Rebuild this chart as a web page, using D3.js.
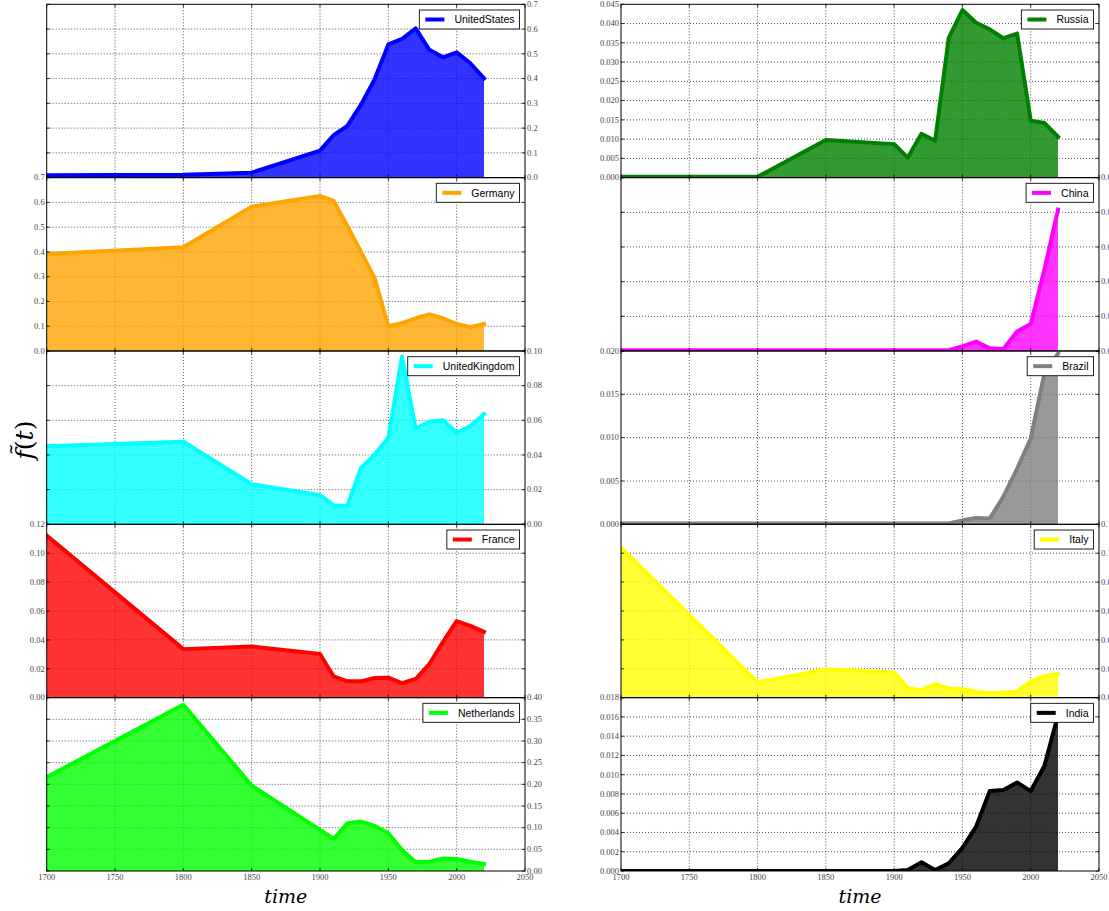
<!DOCTYPE html>
<html>
<head>
<meta charset="utf-8">
<script src="https://cdn.jsdelivr.net/npm/d3@7"></script>
<style>
  html, body { margin: 0; padding: 0; background: #fff; }
  svg { display: block; }
</style>
</head>
<body>
<svg id="chart" width="1109" height="911"></svg>
<script>
// ---------------- DATA ----------------
const years = [1700, 1800, 1850, 1900, 1910, 1920, 1930, 1940, 1950, 1960, 1970, 1980, 1990, 2000, 2010, 2020];

const unitedStates  = [0.010, 0.012, 0.020, 0.109, 0.172, 0.209, 0.295, 0.398, 0.538, 0.560, 0.603, 0.516, 0.486, 0.506, 0.462, 0.401];
const germany       = [0.392, 0.419, 0.583, 0.626, 0.606, 0.505, 0.400, 0.293, 0.101, 0.112, 0.132, 0.148, 0.132, 0.109, 0.096, 0.109];
const unitedKingdom = [0.0451, 0.0476, 0.0231, 0.0168, 0.0110, 0.0106, 0.0326, 0.0403, 0.0499, 0.0967, 0.0553, 0.0592, 0.0601, 0.0528, 0.0566, 0.0636];
const france        = [0.1122, 0.0336, 0.0355, 0.0302, 0.0147, 0.0113, 0.0113, 0.0136, 0.0138, 0.0101, 0.0129, 0.0233, 0.0387, 0.0530, 0.0497, 0.0456];
const netherlands   = [0.2166, 0.3838, 0.197, 0.095, 0.074, 0.110, 0.114, 0.104, 0.087, 0.0486, 0.020, 0.0216, 0.029, 0.0277, 0.0216, 0.016];
const russia        = [0.0002, 0.0002, 0.0098, 0.0087, 0.0052, 0.0114, 0.0096, 0.0363, 0.0435, 0.0402, 0.0385, 0.0362, 0.0374, 0.0148, 0.0142, 0.0106];
const china         = [0.0002, 0.0002, 0.0002, 0.0002, 0.0002, 0.0002, 0.0002, 0.0002, 0.0013, 0.0027, 0.0008, 0.0006, 0.0056, 0.0078, 0.0234, 0.0408];
const brazil        = [0.0001, 0.0001, 0.0001, 0.0001, 0.0001, 0.0001, 0.0001, 0.0001, 0.00046, 0.00073, 0.00066, 0.0032, 0.0064, 0.0099, 0.0174, 0.0197];
const italy         = [0.1039, 0.0106, 0.0196, 0.0175, 0.0064, 0.0053, 0.0092, 0.0064, 0.0058, 0.0041, 0.0030, 0.0035, 0.0041, 0.0113, 0.0150, 0.0164];
const india         = [0, 0, 0, 0, 0.0001, 0.0009, 0.0001, 0.0008, 0.0024, 0.0046, 0.0083, 0.0084, 0.0092, 0.0083, 0.0109, 0.0162];

const countryNames = ["UnitedStates", "Germany", "UnitedKingdom", "France", "Netherlands",
                      "Russia", "China", "Brazil", "Italy", "India"];
const seriesValues = [unitedStates, germany, unitedKingdom, france, netherlands,
                      russia, china, brazil, italy, india];
const yMax   = [0.7, 0.7, 0.10, 0.12, 0.40, 0.045, 0.05, 0.020, 0.12, 0.018];
const yStep  = [0.1, 0.1, 0.02, 0.02, 0.05, 0.005, 0.01, 0.005, 0.02, 0.002];
const yDecimals = [1, 1, 2, 2, 2, 3, 2, 3, 2, 3];
const xTickLabels = [1700, 1750, 1800, 1850, 1900, 1950, 2000, 2050];
const xDomain = [1700, 2050];

// ---------------- STYLE / LAYOUT ----------------
const colors = ["blue", "orange", "cyan", "red", "lime", "green", "magenta", "gray", "yellow", "black"];
const cols = [{x0: 46.7, x1: 525}, {x0: 621, x1: 1099}];
const plotTop = 4.3, plotBottom = 871;
const panelH = (plotBottom - plotTop) / 5;
const tickFont = "'Liberation Serif', 'DejaVu Serif', serif";

const svg = d3.select("#chart");
svg.append("rect").attr("width", 1109).attr("height", 911).attr("fill", "#fff");

countryNames.forEach((name, i) => {
  const colIdx = Math.floor(i / 5);
  const row = i % 5;
  const col = cols[colIdx];
  const top = plotTop + row * panelH;
  const bottom = top + panelH;
  // left column: rows 0,2,4 labelled on the right; right column: rows 1,3
  const rightSide = colIdx === 0 ? (row % 2 === 0) : (row % 2 === 1);

  const x = d3.scaleLinear().domain(xDomain).range([col.x0, col.x1]);
  const y = d3.scaleLinear().domain([0, yMax[i]]).range([bottom, top]);

  const g = svg.append("g");
  const clipId = "clip" + i;
  svg.append("defs").append("clipPath").attr("id", clipId)
    .append("rect").attr("x", col.x0).attr("y", top)
    .attr("width", col.x1 - col.x0).attr("height", panelH);

  const nT = Math.round(yMax[i] / yStep[i]);
  const yTicks = d3.range(nT + 1).map(k => +(k * yStep[i]).toFixed(6));
  const xTicks = xTickLabels;

  // grid
  const grid = g.append("g").attr("stroke", "#000").attr("stroke-width", 0.8)
    .attr("stroke-dasharray", "1,2").attr("opacity", 0.85);
  xTicks.filter(t => t > xDomain[0] && t < xDomain[1]).forEach(t => {
    grid.append("line").attr("x1", x(t)).attr("x2", x(t)).attr("y1", top).attr("y2", bottom);
  });
  yTicks.filter(t => t > 0 && t < yMax[i]).forEach(t => {
    grid.append("line").attr("x1", col.x0).attr("x2", col.x1).attr("y1", y(t)).attr("y2", y(t));
  });

  const data = years.map((yr, k) => ({yr, v: seriesValues[i][k]}));
  const area = d3.area().x(d => x(d.yr)).y0(y(0)).y1(d => y(d.v));
  const line = d3.line().x(d => x(d.yr)).y(d => y(d.v));

  const plot = g.append("g").attr("clip-path", `url(#${clipId})`);
  plot.append("path").datum(data).attr("d", area)
    .attr("fill", colors[i]).attr("fill-opacity", 0.8);
  plot.append("path").datum(data).attr("d", line)
    .attr("fill", "none").attr("stroke", colors[i]).attr("stroke-width", 4)
    .attr("stroke-linejoin", "round").attr("stroke-linecap", "square");

  // ticks (inward)
  const tk = g.append("g").attr("stroke", "#000").attr("stroke-width", 0.8);
  xTicks.forEach(t => {
    tk.append("line").attr("x1", x(t)).attr("x2", x(t)).attr("y1", bottom).attr("y2", bottom - 3);
    tk.append("line").attr("x1", x(t)).attr("x2", x(t)).attr("y1", top).attr("y2", top + 3);
  });
  yTicks.forEach(t => {
    tk.append("line").attr("x1", col.x0).attr("x2", col.x0 + 3).attr("y1", y(t)).attr("y2", y(t));
    tk.append("line").attr("x1", col.x1).attr("x2", col.x1 - 3).attr("y1", y(t)).attr("y2", y(t));
  });

  // frame
  g.append("rect").attr("x", col.x0).attr("y", top)
    .attr("width", col.x1 - col.x0).attr("height", panelH)
    .attr("fill", "none").attr("stroke", "#000").attr("stroke-width", 1);

  // y tick labels
  const fmt = d3.format("." + yDecimals[i] + "f");
  const yl = g.append("g").attr("font-family", tickFont).attr("font-size", 8.5).attr("fill", "#444");
  yTicks.forEach(t => {
    yl.append("text")
      .attr("x", rightSide ? col.x1 + 2 : col.x0 - 2)
      .attr("y", y(t)).attr("dy", "0.33em")
      .attr("text-anchor", rightSide ? "start" : "end")
      .text(fmt(t));
  });

  // x tick labels on bottom panels
  if (row === 4) {
    const xl = g.append("g").attr("font-family", tickFont).attr("font-size", 8.5).attr("fill", "#444");
    xTicks.forEach(t => {
      xl.append("text").attr("x", x(t)).attr("y", bottom + 3).attr("dy", "0.75em")
        .attr("text-anchor", "middle").text(t);
    });
    g.append("text").attr("x", (col.x0 + col.x1) / 2).attr("y", 903)
      .attr("text-anchor", "middle").attr("font-family", "'DejaVu Serif', serif")
      .attr("font-style", "italic").attr("font-size", 19).attr("fill", "#000").text("time");
  }

  // legend
  const lg = g.append("g");
  const txt = lg.append("text").attr("font-family", "'Liberation Sans', Arial, sans-serif")
    .attr("font-size", 10.5).attr("fill", "#000").text(name);
  const tw = txt.node().getComputedTextLength();
  const boxH = 19, boxRight = col.x1 - 5.5, boxTop = top + 5.7;
  const boxW = 6 + 19 + 10 + tw + 5;
  const bx = boxRight - boxW;
  lg.insert("rect", "text").attr("x", bx).attr("y", boxTop).attr("width", boxW).attr("height", boxH)
    .attr("fill", "#fff").attr("stroke", "#222").attr("stroke-width", 1);
  lg.append("line").attr("x1", bx + 6).attr("x2", bx + 25)
    .attr("y1", boxTop + boxH / 2).attr("y2", boxTop + boxH / 2)
    .attr("stroke", colors[i]).attr("stroke-width", 4);
  txt.attr("x", bx + 35).attr("y", boxTop + boxH / 2).attr("dy", "0.35em");
});

// y axis label  f̃(t)
const ylab = svg.append("text")
  .attr("transform", "translate(33,440) rotate(-90)")
  .attr("text-anchor", "middle")
  .attr("font-family", "'DejaVu Serif', serif").attr("font-size", 25).attr("fill", "#000");
ylab.append("tspan").attr("font-style", "italic").text("f\u0303");
ylab.append("tspan").text("(");
ylab.append("tspan").attr("font-style", "italic").text("t");
ylab.append("tspan").text(")");
</script>
</body>
</html>
